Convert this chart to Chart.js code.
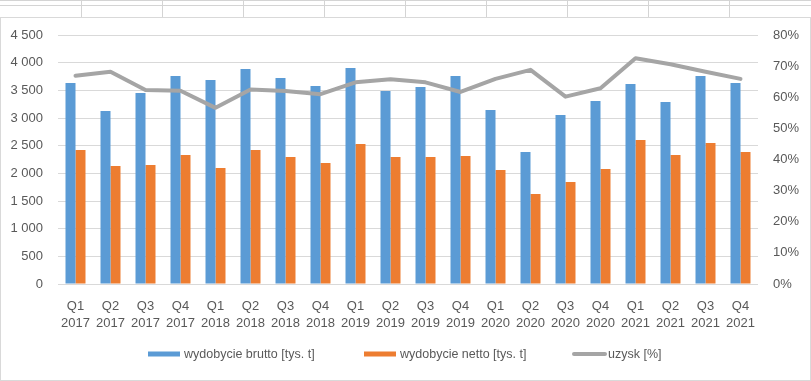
<!DOCTYPE html>
<html>
<head>
<meta charset="utf-8">
<script src="https://cdn.jsdelivr.net/npm/chart.js@4/dist/chart.umd.min.js"></script>
<style>
  html, body { margin: 0; padding: 0; background: #ffffff; }
  body { width: 811px; height: 381px; position: relative; overflow: hidden; }
  .hl { position: absolute; left: 0; width: 811px; height: 1px; background: #d4d4d4; }
  .vl { position: absolute; top: 0; width: 1px; height: 17px; background: #d4d4d4; }
  #wrap { position: absolute; left: 0; top: 17px; width: 811px; height: 364px; }
  #frame { position: absolute; left: 0; top: 17px; width: 809px; height: 362px; border: 1px solid #d9d9d9; pointer-events: none; }
</style>
</head>
<body>
<div id="cells"></div>
<div id="wrap"><canvas id="c" width="811" height="364"></canvas></div>
<div id="frame"></div>
<script>
// ---- data ----
const quarters = ['Q1','Q2','Q3','Q4','Q1','Q2','Q3','Q4','Q1','Q2','Q3','Q4','Q1','Q2','Q3','Q4','Q1','Q2','Q3','Q4'];
const years = ['2017','2017','2017','2017','2018','2018','2018','2018','2019','2019','2019','2019','2020','2020','2020','2020','2021','2021','2021','2021'];
const brutto = [3633,3127,3452,3759,3687,3886,3723,3578,3904,3488,3560,3759,3145,2386,3054,3307,3614,3289,3759,3633];
const netto = [2422,2133,2151,2331,2096,2422,2295,2187,2530,2295,2295,2313,2060,1627,1843,2078,2602,2331,2548,2386];
const uzysk = [66.9,68.2,62.3,62.1,56.6,62.5,62.0,61.0,64.8,65.8,64.8,61.7,65.9,68.8,60.2,62.9,72.5,70.6,68.2,65.9];
const seriesNames = ['wydobycie brutto [tys. t]', 'wydobycie netto [tys. t]', 'uzysk [%]'];
const leftTicks = [0,500,1000,1500,2000,2500,3000,3500,4000,4500];
const rightTicks = [0,10,20,30,40,50,60,70,80];

// ---- spreadsheet cell lines above the chart ----
(function(){
  const cells = document.getElementById('cells');
  [0,5].forEach(y => { const d = document.createElement('div'); d.className='hl'; d.style.top = y+'px'; cells.appendChild(d); });
  for (let i = 1; i <= 9; i++) { const d = document.createElement('div'); d.className='vl'; d.style.left = (i*81)+'px'; cells.appendChild(d); }
})();

const labels = quarters.map((q,i) => [q, years[i]]);
const FONT = "'Liberation Sans', Arial, sans-serif";
const TXT = '#595959';

const fmt = v => String(v).replace(/\B(?=(\d{3})+(?!\d))/g, ' ');

const legendPlugin = {
  id: 'excelLegend',
  afterDraw(chart) {
    const ctx = chart.ctx;
    const starts = [148, 364, 572];
    const cy = 337;
    ctx.save();
    ctx.font = "12.5px " + FONT;
    ctx.fillStyle = TXT;
    ctx.textBaseline = 'middle';
    ctx.textAlign = 'left';
    chart.data.datasets.forEach((ds, i) => {
      const x = starts[i];
      if (ds.type === 'line') {
        ctx.strokeStyle = ds.borderColor;
        ctx.lineWidth = 4;
        ctx.lineCap = 'round';
        ctx.beginPath(); ctx.moveTo(x + 2, cy); ctx.lineTo(x + 33, cy); ctx.stroke();
        ctx.fillStyle = TXT;
        ctx.fillText(ds.label, x + 36, cy + 1);
      } else {
        ctx.fillStyle = ds.backgroundColor;
        ctx.fillRect(x, cy - 2.5, 32, 5);
        ctx.fillStyle = TXT;
        ctx.fillText(ds.label, x + 36, cy + 1);
      }
    });
    ctx.restore();
  }
};

const fixV = w => s => { s.width = w; s.paddingTop = 0; s.paddingBottom = 0; };

new Chart(document.getElementById('c'), {
  data: {
    labels: labels,
    datasets: [
      { type: 'bar', label: seriesNames[0], data: brutto, backgroundColor: '#5b9bd5', yAxisID: 'y', order: 2,
        categoryPercentage: 0.5714, barPercentage: 1.0 },
      { type: 'bar', label: seriesNames[1], data: netto, backgroundColor: '#ed7d31', yAxisID: 'y', order: 2,
        categoryPercentage: 0.5714, barPercentage: 1.0 },
      { type: 'line', label: seriesNames[2], data: uzysk, borderColor: '#a5a5a5', backgroundColor: '#a5a5a5',
        borderWidth: 4, pointRadius: 0, tension: 0, yAxisID: 'y1', order: 0,
        borderJoinStyle: 'round', borderCapStyle: 'round' }
    ]
  },
  options: {
    responsive: false,
    animation: false,
    devicePixelRatio: 1,
    layout: { padding: { top: 18, right: 0, bottom: 0, left: 0 } },
    plugins: { legend: { display: false }, tooltip: { enabled: false } },
    scales: {
      x: {
        grid: { display: false, drawTicks: false },
        border: { display: false },
        ticks: { color: TXT, font: { family: FONT, size: 13, lineHeight: 1.38 }, maxRotation: 0, autoSkip: false, padding: 13 },
        afterFit: s => { s.height = 97; }
      },
      y: {
        position: 'left',
        min: 0, max: 4500,
        afterBuildTicks: s => { s.ticks = leftTicks.map(v => ({ value: v })); },
        grid: { color: '#d9d9d9', drawTicks: false, lineWidth: 1 },
        border: { display: false },
        ticks: { color: TXT, font: { family: FONT, size: 13 }, padding: 15, callback: v => fmt(v) },
        afterFit: fixV(58)
      },
      y1: {
        position: 'right',
        min: 0, max: 80,
        afterBuildTicks: s => { s.ticks = rightTicks.map(v => ({ value: v })); },
        grid: { display: false, drawTicks: false },
        border: { display: false },
        ticks: { color: TXT, font: { family: FONT, size: 13 }, padding: 15, callback: v => v + '%' },
        afterFit: fixV(53)
      }
    }
  },
  plugins: [legendPlugin]
});
</script>
</body>
</html>
